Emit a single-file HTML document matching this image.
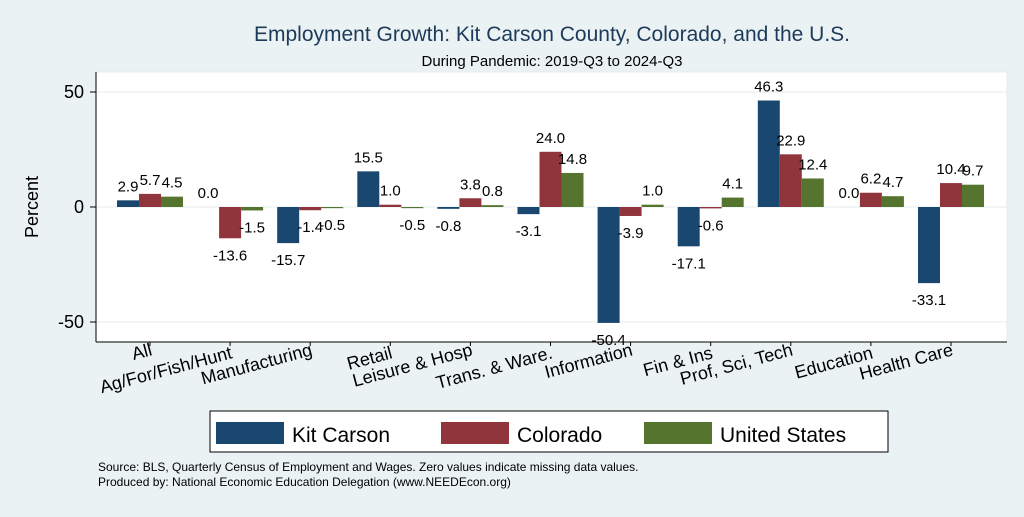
<!DOCTYPE html>
<html><head><meta charset="utf-8"><style>
body{margin:0;background:#eaf2f3;}
svg text{font-family:"Liberation Sans",Arial,sans-serif;}
</style></head><body>
<svg id="chart" width="1024" height="512" viewBox="0 0 1024 512">
<rect x="0" y="0" width="1024" height="512" fill="#eaf2f3"/>
<text x="552" y="41" text-anchor="middle" font-size="21" fill="#1e3a5a">Employment Growth: Kit Carson County, Colorado, and the U.S.</text>
<text x="552" y="66" text-anchor="middle" font-size="15" fill="#000">During Pandemic: 2019-Q3 to 2024-Q3</text>
<rect x="96" y="72" width="911" height="270" fill="#fff" stroke="#e6ecef"/>
<g id="grid"></g><g id="bars"></g><g id="labels"></g><g id="axis"></g>
<text transform="translate(38,207) rotate(-90)" text-anchor="middle" font-size="18">Percent</text>
<rect x="210" y="411" width="678" height="41" fill="#fff" stroke="#000" stroke-width="1"/>
<g><rect x="216" y="422" width="68" height="22" fill="#1a476f"/><text x="292" y="442" font-size="21">Kit Carson</text></g>
<g><rect x="441" y="422" width="68" height="22" fill="#90353b"/><text x="517" y="442" font-size="21">Colorado</text></g>
<g><rect x="644" y="422" width="68" height="22" fill="#55752f"/><text x="720" y="442" font-size="21">United States</text></g>
<text x="98" y="471" font-size="12">Source: BLS, Quarterly Census of Employment and Wages. Zero values indicate missing data values.</text>
<text x="98" y="486" font-size="12">Produced by: National Economic Education Delegation (www.NEEDEcon.org)</text>
</svg>
<script>
const categories=["All","Ag/For/Fish/Hunt","Manufacturing","Retail","Leisure & Hosp","Trans. & Ware.","Information","Fin & Ins","Prof, Sci, Tech","Education","Health Care"];
const kitCarson=[2.9,0.0,-15.7,15.5,-0.8,-3.1,-50.4,-17.1,46.3,0.0,-33.1];
const colorado=[5.7,-13.6,-1.4,1.0,3.8,24.0,-3.9,-0.6,22.9,6.2,10.4];
const unitedStates=[4.5,-1.5,-0.5,-0.5,0.8,14.8,1.0,4.1,12.4,4.7,9.7];
const yTicks=[-50,0,50];
const seriesColors=["#1a476f","#90353b","#55752f"];
const seriesNames=["kit-carson","colorado","united-states"];
const NS="http://www.w3.org/2000/svg";
const yS=v=>207-v*2.3;
const xG=i=>117+i*80.1;
const bw=22;
function mk(t,a,p){const e=document.createElementNS(NS,t);for(const k in a)e.setAttribute(k,a[k]);p.appendChild(e);return e;}
const grid=document.getElementById('grid'),axis=document.getElementById('axis'),bars=document.getElementById('bars'),labels=document.getElementById('labels');
yTicks.forEach(t=>{
 const g=mk('line',{x1:96,x2:1007,y1:yS(t),y2:yS(t),stroke:'#e6ecef','stroke-width':1},grid);
 
 
 mk('line',{x1:90,x2:96,y1:yS(t),y2:yS(t),stroke:'#000'},axis);
 const tx=mk('text',{x:84,y:yS(t)+6,'text-anchor':'end','font-size':18},axis);tx.textContent=t;
 
 
});
mk('line',{x1:96,x2:96,y1:72,y2:342,stroke:'#000'},axis);
[kitCarson,colorado,unitedStates].forEach((s,si)=>{
 s.forEach((v,i)=>{
  const x=xG(i)+si*bw;
  const y0=yS(0),y1=yS(v);
  const r=mk('rect',{x:x,y:Math.min(y0,y1),width:bw,height:Math.max(Math.abs(y1-y0),0.01),fill:seriesColors[si]},bars);
  
  
  const ly=v>=0?y1-9:y1+22;
  const t=mk('text',{x:x+bw/2,y:ly,'text-anchor':'middle','font-size':15},labels);t.textContent=v.toFixed(1);
  
  
 });
});
categories.forEach((c,i)=>{
 const cx=xG(i)+33;
 mk('line',{x1:cx,x2:cx,y1:342,y2:346,stroke:'#000'},axis);
 const t=mk('text',{x:0,y:0,'text-anchor':'end','font-size':18,transform:`translate(${cx+3},${355+(i%2)*3}) rotate(-15)`},axis);
 t.textContent=c;
 
 
});
mk('line',{x1:96,x2:1007,y1:342,y2:342,stroke:'#000'},axis);
</script>
</body></html>
